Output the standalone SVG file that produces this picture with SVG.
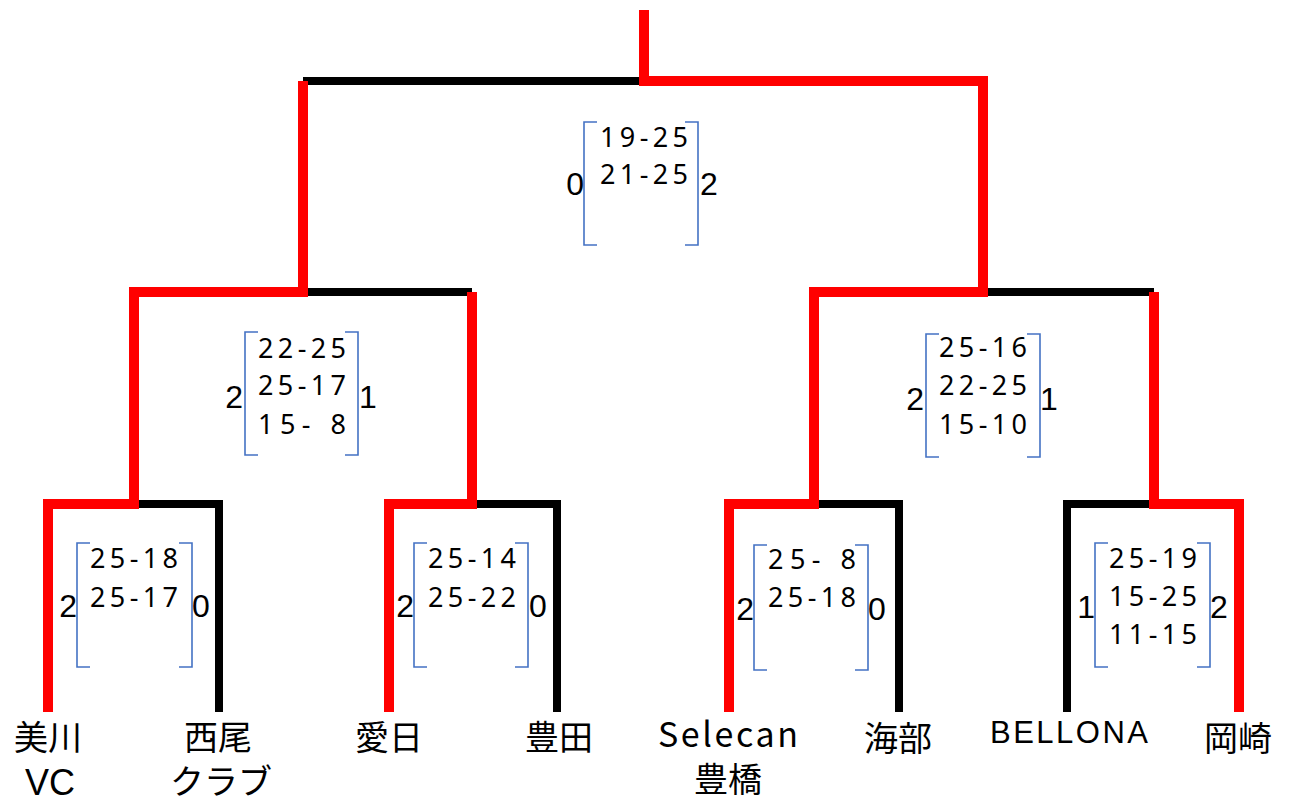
<svg xmlns="http://www.w3.org/2000/svg" width="1296" height="800" viewBox="0 0 1296 800">
<style>
.red{fill:none;stroke:#FF0000;stroke-width:10;stroke-linejoin:miter;stroke-linecap:butt}
.blk{fill:none;stroke:#000000;stroke-width:8;stroke-linecap:butt}
.br{fill:none;stroke:#4472C4;stroke-width:1.6}
.sc{font-family:"Noto Sans","Liberation Sans",sans-serif;font-size:27px;fill:#000;text-anchor:middle}
.big{font-family:"Liberation Sans",sans-serif;font-size:32px;fill:#000}
.lbl{font-family:"Noto Sans CJK JP","Noto Sans",sans-serif;font-size:34px;fill:#000;text-anchor:middle}
.lat{font-family:"Liberation Sans",sans-serif;font-size:31px;fill:#000;text-anchor:middle}
.vc{font-family:"Liberation Sans",sans-serif;font-size:36px;fill:#000;text-anchor:middle}
</style>
<rect width="1296" height="800" fill="#FFFFFF"/>
<g id="connectors">
<path class="blk" d="M219,712 V504 H134"/>
<path class="blk" d="M557,712 V504 H472"/>
<path class="blk" d="M899,712 V504 H814"/>
<path class="blk" d="M1067,712 V504 H1154"/>
<path class="blk" d="M303,292 H472"/>
<path class="blk" d="M983,292 H1154"/>
<path class="blk" d="M303,81 H644"/>
<path class="red" d="M48,712 V504 H134 V292 H303 V81"/>
<path class="red" d="M389,712 V504 H472 V292"/>
<path class="red" d="M729,712 V504 H814 V292 H983 V81 H644 V10"/>
<path class="red" d="M1239,712 V504 H1154 V292"/>
</g>
<g id="match-final">
<path class="br" d="M597,122 H584 V245 H597"/>
<path class="br" d="M685,122 H698 V245 H685"/>
<text class="sc" x="644" y="147" textLength="88" lengthAdjust="spacing">19-25</text>
<text class="sc" x="644" y="184" textLength="88" lengthAdjust="spacing">21-25</text>
<text class="big" x="584" y="195" text-anchor="end">0</text>
<text class="big" x="700" y="195">2</text>
</g>
<g id="match-semi-left">
<path class="br" d="M258,332 H245 V455 H258"/>
<path class="br" d="M345,332 H358 V455 H345"/>
<text class="sc" x="302" y="358" textLength="88" lengthAdjust="spacing">22-25</text>
<text class="sc" x="302" y="395" textLength="88" lengthAdjust="spacing">25-17</text>
<text class="sc" x="302" y="434" textLength="88" lengthAdjust="spacing">15- 8</text>
<text class="big" x="243" y="408" text-anchor="end">2</text>
<text class="big" x="359" y="408">1</text>
</g>
<g id="match-semi-right">
<path class="br" d="M939,334 H926 V457 H939"/>
<path class="br" d="M1027,334 H1040 V457 H1027"/>
<text class="sc" x="983" y="357" textLength="88" lengthAdjust="spacing">25-16</text>
<text class="sc" x="983" y="395" textLength="88" lengthAdjust="spacing">22-25</text>
<text class="sc" x="983" y="434" textLength="88" lengthAdjust="spacing">15-10</text>
<text class="big" x="924" y="410" text-anchor="end">2</text>
<text class="big" x="1040" y="410">1</text>
</g>
<g id="match-1">
<path class="br" d="M90,543 H77 V667 H90"/>
<path class="br" d="M179,543 H192 V667 H179"/>
<text class="sc" x="134" y="568" textLength="88" lengthAdjust="spacing">25-18</text>
<text class="sc" x="134" y="607" textLength="88" lengthAdjust="spacing">25-17</text>
<text class="big" x="77" y="617" text-anchor="end">2</text>
<text class="big" x="192" y="617">0</text>
</g>
<g id="match-2">
<path class="br" d="M427,543 H414 V667 H427"/>
<path class="br" d="M515,543 H528 V667 H515"/>
<text class="sc" x="472" y="568" textLength="88" lengthAdjust="spacing">25-14</text>
<text class="sc" x="472" y="607" textLength="88" lengthAdjust="spacing">25-22</text>
<text class="big" x="414" y="617" text-anchor="end">2</text>
<text class="big" x="529" y="617">0</text>
</g>
<g id="match-3">
<path class="br" d="M767,545 H754 V670 H767"/>
<path class="br" d="M855,545 H868 V670 H855"/>
<text class="sc" x="812" y="569" textLength="88" lengthAdjust="spacing">25- 8</text>
<text class="sc" x="812" y="607" textLength="88" lengthAdjust="spacing">25-18</text>
<text class="big" x="754" y="620" text-anchor="end">2</text>
<text class="big" x="868" y="620">0</text>
</g>
<g id="match-4">
<path class="br" d="M1108,543 H1095 V667 H1108"/>
<path class="br" d="M1197,543 H1210 V667 H1197"/>
<text class="sc" x="1153" y="568" textLength="88" lengthAdjust="spacing">25-19</text>
<text class="sc" x="1153" y="606" textLength="88" lengthAdjust="spacing">15-25</text>
<text class="sc" x="1153" y="644" textLength="88" lengthAdjust="spacing">11-15</text>
<text class="big" x="1095" y="618" text-anchor="end">1</text>
<text class="big" x="1210" y="618">2</text>
</g>
<g id="team-mikawa">
<text class="lbl" x="48" y="750">美川</text>
<text class="vc" x="50" y="795">VC</text>
</g>
<g id="team-nishio">
<text class="lbl" x="218" y="750">西尾</text>
<text class="lbl" x="221" y="794">クラブ</text>
</g>
<g id="team-aichi">
<text class="lbl" x="389" y="750">愛日</text>
</g>
<g id="team-toyota">
<text class="lbl" x="559" y="750">豊田</text>
</g>
<g id="team-selecan">
<text class="lbl" x="728" y="747" textLength="140" lengthAdjust="spacing">Selecan</text>
<text class="lbl" x="728" y="792">豊橋</text>
</g>
<g id="team-ama">
<text class="lbl" x="898" y="751">海部</text>
</g>
<g id="team-bellona">
<text class="lat" x="1069" y="743" textLength="158" lengthAdjust="spacing">BELLONA</text>
</g>
<g id="team-okazaki">
<text class="lbl" x="1238" y="751">岡崎</text>
</g>
</svg>
